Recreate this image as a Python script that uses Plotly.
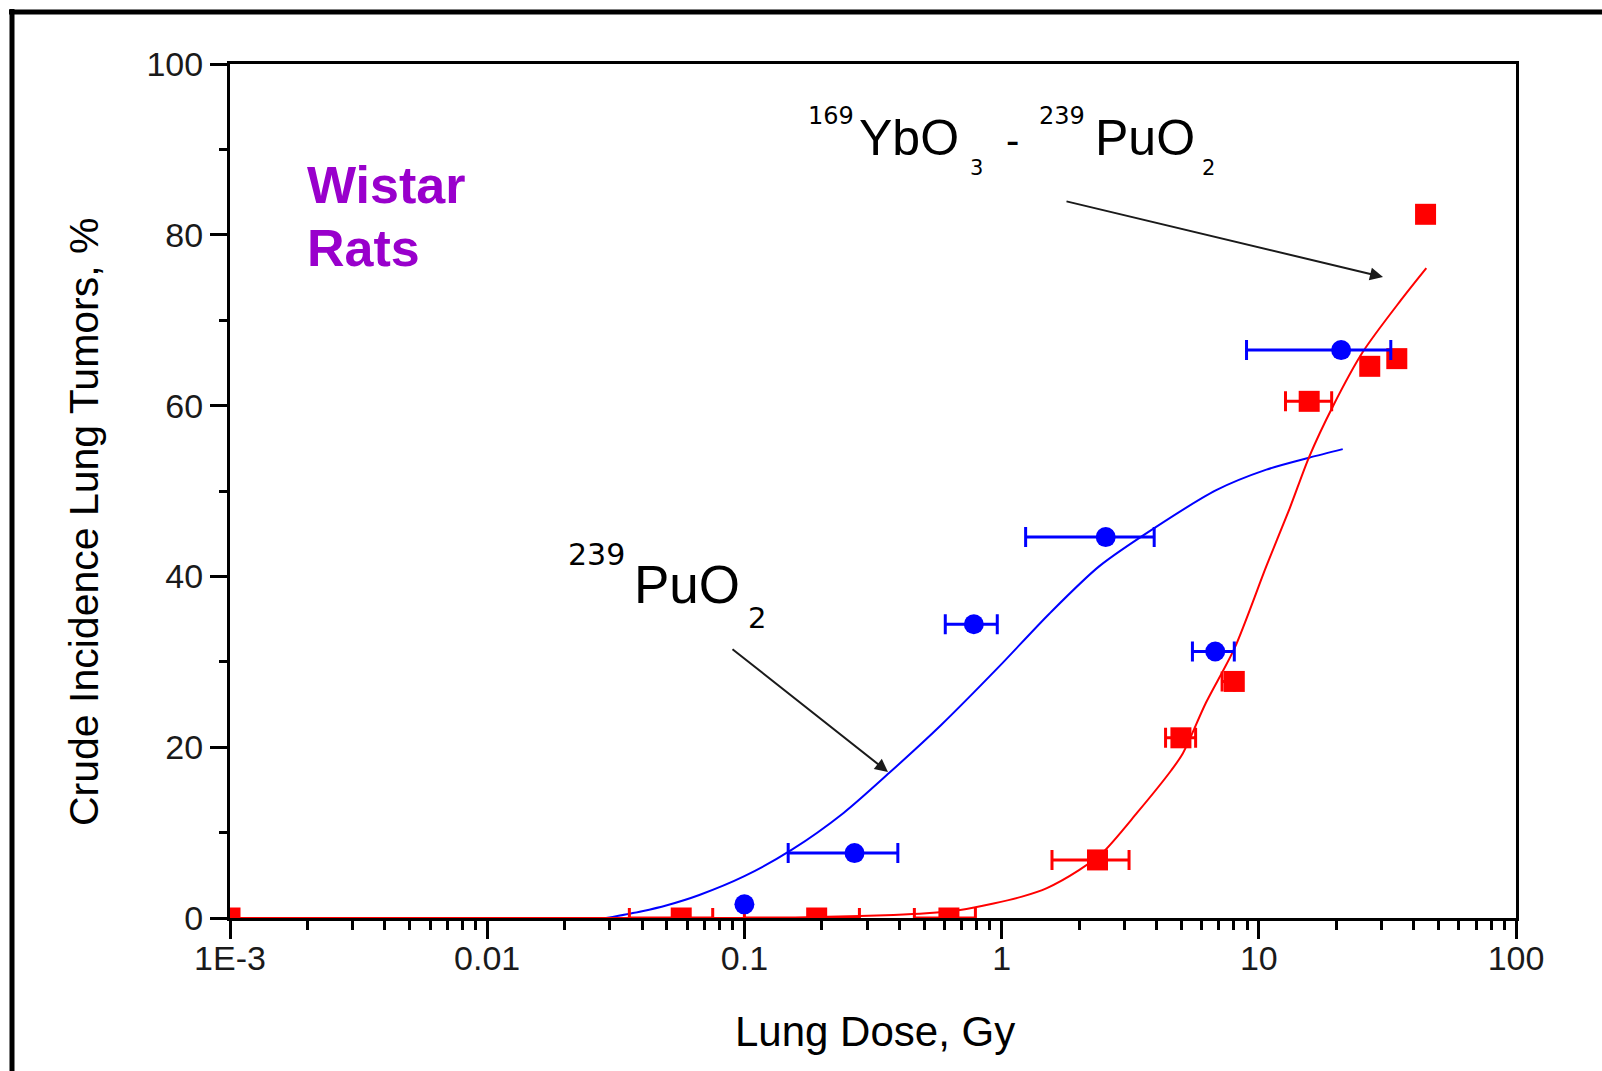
import plotly.graph_objects as go

# ---------------- data ----------------
# 239PuO2 (blue circles) : dose (Gy), incidence (%), dose error bar limits
pu_dose = [0.1, 0.268, 0.78, 2.54, 6.77, 20.9]
pu_inc = [1.6, 7.6, 34.4, 44.6, 31.2, 66.5]
pu_lo = [None, 0.148, 0.604, 1.24, 5.52, 8.96]
pu_hi = [None, 0.395, 0.962, 3.92, 8.03, 32.6]

# 169YbO3 - 239PuO2 (red squares)
yb_dose = [0.001, 0.0568, 0.191, 0.624, 2.36, 4.98, 8.03, 15.7, 27.0, 34.4, 44.5]
yb_inc = [0, 0, 0, 0, 6.8, 21.1, 27.7, 60.5, 64.6, 65.5, 82.4]
yb_lo = [None, 0.0357, 0.100, 0.458, 1.57, 4.34, 7.2, 12.7, None, None, None]
yb_hi = [None, 0.0753, 0.280, 0.791, 3.13, 5.68, 8.03, 19.2, None, None, None]

# fitted curves
pu_fit_dose = [0.029, 0.04, 0.05, 0.0668, 0.1, 0.153, 0.243, 0.366, 0.582,
               0.975, 1.53, 2.40, 3.99, 6.83, 10.7, 15.7, 21.2]
pu_fit_inc = [0, 0.8, 1.5, 2.7, 4.9, 8.0, 12.3, 17.0, 22.6,
              29.4, 35.6, 41.2, 45.8, 50.1, 52.5, 53.9, 54.9]

yb_fit_dose = [0.001, 0.15, 0.21, 0.38, 0.51, 0.69, 0.93, 1.2, 1.5, 2.0, 2.46,
               3.36, 4.57, 5.07, 6.23, 8.05, 10.7, 13.2, 15.7, 19.4, 25.4, 35.8, 44.8]
yb_fit_inc = [0, 0, 0.15, 0.35, 0.55, 0.95, 1.7, 2.5, 3.5, 5.6, 7.6,
              12.3, 17.3, 19.3, 25.2, 31.6, 41.2, 48.0, 54.0, 59.9, 66.3, 72.4, 76.1]

x_tickvals = [0.001, 0.01, 0.1, 1, 10, 100]
x_ticktext = ["1E-3", "0.01", "0.1", "1", "10", "100"]
y_tickvals = [0, 20, 40, 60, 80, 100]

BLUE = "#0000FF"
RED = "#FF0000"
PURPLE = "#9900CC"
FONT = "Liberation Sans"
FONT2 = "DejaVu Sans"

# ---------------- layout geometry ----------------
W, H = 1602, 1071
L, R, T, B = 230, 86, 64, 153
PW, PH = W - L - R, H - T - B


def px(x):
    return (x - L) / PW


def py(y):
    return (H - B - y) / PH


def split(xs, ys, lo, hi, with_err):
    ox, oy, ep, em = [], [], [], []
    for x, y, a, b in zip(xs, ys, lo, hi):
        has = a is not None
        if has == with_err:
            ox.append(x)
            oy.append(y)
            if has:
                ep.append(b - x)
                em.append(x - a)
    return ox, oy, ep, em


fig = go.Figure()

# curves
fig.add_trace(go.Scatter(x=pu_fit_dose, y=pu_fit_inc, mode="lines",
                         line=dict(color=BLUE, width=2, shape="spline", smoothing=0.8),
                         showlegend=False, hoverinfo="skip"))
fig.add_trace(go.Scatter(x=yb_fit_dose, y=yb_fit_inc, mode="lines",
                         line=dict(color=RED, width=2, shape="spline", smoothing=0.8),
                         showlegend=False, hoverinfo="skip"))

# points with / without error bars
for xs, ys, lo, hi, col, sym, size in [
    (yb_dose, yb_inc, yb_lo, yb_hi, RED, "square", 21),
    (pu_dose, pu_inc, pu_lo, pu_hi, BLUE, "circle", 20),
]:
    ox, oy, ep, em = split(xs, ys, lo, hi, True)
    fig.add_trace(go.Scatter(
        x=ox, y=oy, mode="markers",
        marker=dict(color=col, symbol=sym, size=size, line=dict(width=0)),
        error_x=dict(type="data", symmetric=False, array=ep, arrayminus=em,
                     color=col, thickness=3, width=10),
        showlegend=False))
    ox, oy, _, _ = split(xs, ys, lo, hi, False)
    fig.add_trace(go.Scatter(
        x=ox, y=oy, mode="markers",
        marker=dict(color=col, symbol=sym, size=size, line=dict(width=0)),
        showlegend=False))

annotations = []


def txt(text, x, y, size, xanchor="left", color="black", bold=False, angle=0, family=FONT):
    t = f"<b>{text}</b>" if bold else text
    annotations.append(dict(text=t, x=px(x), y=py(y), xref="paper", yref="paper",
                            xanchor=xanchor, yanchor="middle", showarrow=False,
                            textangle=angle,
                            font=dict(family=family, size=size, color=color)))


# Wistar Rats
txt("Wistar", 305, 185, 52, color=PURPLE, bold=True)
txt("Rats", 305, 248, 52, color=PURPLE, bold=True)

# upper formula label
txt("169", 806, 116, 24, family=FONT2)
txt("YbO", 857, 138, 50)
txt("3", 968, 168, 21, family=FONT2)
txt("-", 1012, 140, 40, xanchor="center")
txt("239", 1037, 116, 24, family=FONT2)
txt("PuO", 1093, 138, 50)
txt("2", 1200, 168, 21, family=FONT2)

# lower formula label
txt("239", 566, 554, 30, family=FONT2)
txt("PuO", 632, 584, 53)
txt("2", 746, 618, 29, family=FONT2)

# axis titles
txt("Lung Dose, Gy", 875, 1031, 42, xanchor="center")
txt("Crude Incidence Lung Tumors, %", 84, 522, 41, xanchor="center", angle=-90)

# arrows
for hx, hy, tx, ty in [(1383, 277, 1065, 201), (888, 772, 731, 648)]:
    annotations.append(dict(text="", x=px(hx), y=py(hy), xref="paper", yref="paper",
                            ax=tx - hx, ay=ty - hy, axref="pixel", ayref="pixel",
                            showarrow=True, arrowhead=2, arrowsize=1.3,
                            arrowwidth=2, arrowcolor="#1a1a1a"))

shapes = [
    dict(type="line", xref="paper", yref="paper", x0=px(9), x1=px(1602), y0=py(12), y1=py(12),
         line=dict(color="black", width=5)),
    dict(type="line", xref="paper", yref="paper", x0=px(12), x1=px(12), y0=py(9), y1=py(1071),
         line=dict(color="black", width=5)),
]

fig.update_layout(
    width=W, height=H,
    margin=dict(l=L, r=R, t=T, b=B, pad=0),
    paper_bgcolor="white", plot_bgcolor="white",
    annotations=annotations, shapes=shapes,
    showlegend=False,
    xaxis=dict(type="log", range=[-3, 2], tickmode="array",
               tickvals=x_tickvals, ticktext=x_ticktext,
               ticks="outside", ticklen=18, tickwidth=3, tickcolor="black",
               showline=True, linewidth=3, linecolor="black", mirror=True,
               showgrid=False, zeroline=False, ticklabelstandoff=-10,
               tickfont=dict(family=FONT, size=34, color="#1a1a1a"),
               minor=dict(dtick="D1", ticks="outside", ticklen=9, tickwidth=3,
                          tickcolor="black", showgrid=False)),
    yaxis=dict(range=[0, 100], tickmode="array", tickvals=y_tickvals,
               ticks="outside", ticklen=17, tickwidth=3, tickcolor="black",
               showline=True, linewidth=3, linecolor="black", mirror=True,
               showgrid=False, zeroline=False, ticklabelstandoff=0,
               tickfont=dict(family=FONT, size=34, color="#1a1a1a"),
               minor=dict(dtick=10, tick0=0, ticks="outside", ticklen=8, tickwidth=3,
                          tickcolor="black", showgrid=False)),
)

fig.write_html("out.html")
